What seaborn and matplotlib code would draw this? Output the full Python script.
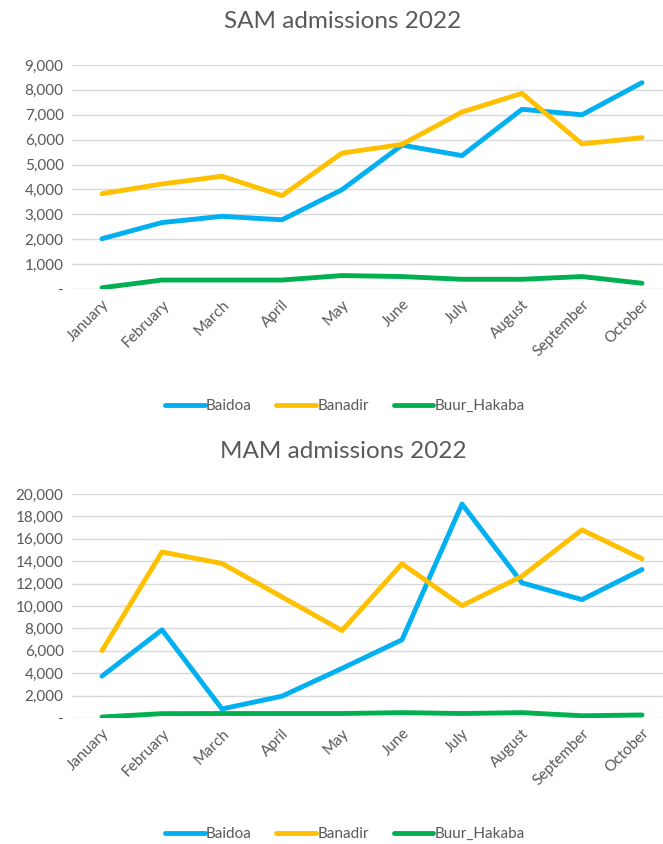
import pandas as pd
import numpy as np
import matplotlib
matplotlib.use('Agg')
import matplotlib.pyplot as plt
from matplotlib.ticker import FuncFormatter, MultipleLocator
import seaborn as sns

# --- data ---
months = ['January', 'February', 'March', 'April', 'May', 'June',
          'July', 'August', 'September', 'October']
districts = ['Baidoa', 'Banadir', 'Buur_Hakaba']

sam_baidoa = [2020, 2670, 2920, 2780, 3990, 5780, 5360, 7220, 7000, 8290]
sam_banadir = [3830, 4220, 4530, 3750, 5460, 5810, 7110, 7860, 5830, 6080]
sam_buur = [50, 360, 360, 360, 540, 500, 390, 390, 500, 230]

mam_baidoa = [3740, 7870, 810, 1950, 4430, 6980, 19100, 12070, 10570, 13260]
mam_banadir = [6020, 14820, 13800, 10810, 7810, 13770, 10030, 12660, 16800, 14220]
mam_buur = [90, 390, 400, 400, 400, 480, 400, 480, 200, 270]

colores = {'Baidoa': '#00B0F0', 'Banadir': '#FFC000', 'Buur_Hakaba': '#00B050'}
cinza = '#595959'


def montar_df(series):
    linhas = []
    for nome, valores in zip(districts, series):
        for i, v in enumerate(valores):
            linhas.append({'pos': i, 'district': nome, 'value': v})
    return pd.DataFrame(linhas)


def fmt_excel(v, _):
    if abs(v) < 1e-9:
        return '-'
    return f'{v:,.0f}'


sns.set_theme(style='white')
plt.rcParams['font.family'] = ['Lato', 'DejaVu Sans']

fig = plt.figure(figsize=(6.63, 8.44), dpi=100)
W, H = 663, 844


def painel(series, titulo, top_px, bot_px, ymax, step, title_y, legend_y):
    ax = fig.add_axes([72 / W, 1 - bot_px / H, (W - 72) / W, (bot_px - top_px) / H])
    df = montar_df(series)
    sns.lineplot(data=df, x='pos', y='value', hue='district', palette=colores,
                 linewidth=3.5, ax=ax, legend=False)
    ax.set_xlim(-0.5, 9.35)
    ax.set_ylim(0, ymax)
    ax.yaxis.set_major_locator(MultipleLocator(step))
    ax.yaxis.set_major_formatter(FuncFormatter(fmt_excel))
    ax.grid(axis='y', color='#D9D9D9', linewidth=1)
    ax.set_axisbelow(True)
    for s in ax.spines.values():
        s.set_visible(False)
    ax.set_xticks(range(len(months)))
    ax.set_xticklabels(months, rotation=45, ha='right', rotation_mode='anchor')
    ax.tick_params(axis='both', length=0, labelsize=11, colors=cinza, pad=6)
    ax.set_xlabel('')
    ax.set_ylabel('')
    fig.text(343 / W, 1 - title_y / H, titulo, ha='center', va='center',
             fontsize=17.5, color=cinza)
    handles = [plt.Line2D([0], [0], color=colores[d], linewidth=3.5) for d in districts]
    ax.legend(handles, districts, ncol=3, frameon=False, loc='center',
              bbox_to_anchor=(345 / W, 1 - legend_y / H), bbox_transform=fig.transFigure,
              fontsize=11, labelcolor=cinza, handlelength=2.6, handletextpad=0.1,
              columnspacing=1.6)
    return ax


painel([sam_baidoa, sam_banadir, sam_buur], 'SAM admissions 2022',
       65, 289, 9000, 1000, 22, 406)
painel([mam_baidoa, mam_banadir, mam_buur], 'MAM admissions 2022',
       494, 718, 20000, 2000, 452, 834)

fig.savefig('out.png', dpi=100, facecolor='white')
